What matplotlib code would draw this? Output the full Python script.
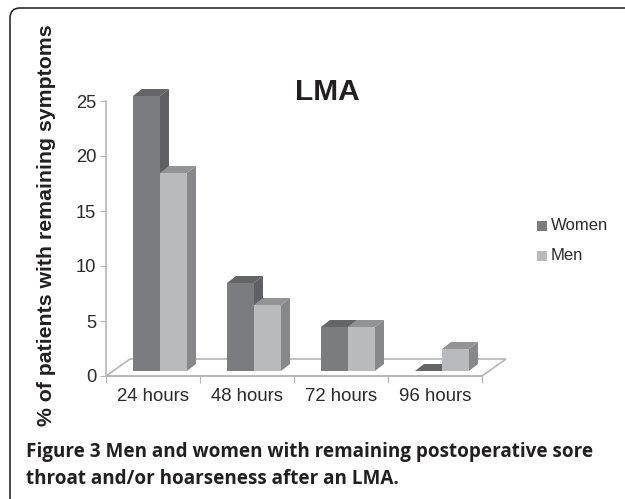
import matplotlib
matplotlib.use('Agg')
import matplotlib.pyplot as plt
from matplotlib.patches import Polygon, FancyBboxPatch, Rectangle

# data
categories = ['24 hours', '48 hours', '72 hours', '96 hours']
women = [25, 8, 4, 0]
men = [18, 6, 4, 2]
yticks = [0, 5, 10, 15, 20, 25]

W, H = 625, 499
fig = plt.figure(figsize=(W / 100, H / 100), dpi=100)
plt.rcParams['font.family'] = ['Liberation Sans', 'DejaVu Sans']

# frame runs off the right and bottom of the picture
bg = fig.add_axes([0, 0, 1, 1])
bg.set_xlim(0, W)
bg.set_ylim(H, 0)
bg.axis('off')
bg.add_patch(FancyBboxPatch((10, 8), 640, 500, boxstyle='round,pad=0,rounding_size=10',
                            fc='white', ec='#2b2b2b', lw=1.2))

# plot axes: category 0..4 = 106..482 px, value 0..25 = 376..101 px
ax = fig.add_axes([106 / W, 1 - 376 / H, 376 / W, 275 / H])
ax.set_xlim(0, 4)
ax.set_ylim(0, 25)
ax.patch.set_alpha(0)
for s in ['top', 'right']:
    ax.spines[s].set_visible(False)
ax.spines['bottom'].set_color('#b5b6b8')
ax.spines['left'].set_color('#b5b6b8')
ax.spines['bottom'].set_linewidth(1.2)
ax.spines['left'].set_linewidth(1.2)

ax.set_yticks(yticks)
ax.set_xticks(range(5))
ax.set_xticklabels([])
ax.tick_params(axis='y', length=4, color='#b5b6b8', labelsize=13.2, labelcolor='#2b2b2b', pad=3)
ax.tick_params(axis='x', length=5, color='#b5b6b8')
for i, c in enumerate(categories):
    ax.text(i + 0.5, -1.1, c, ha='center', va='top', fontsize=13.4, color='#2b2b2b')

# depth of the fake 3d
ux, uy = 1 / 94, 1 / 11
fx, fy = 24 * ux, 17 * uy   # floor
dx, dy = 9 * ux, 7 * uy     # bars
y0 = 5 * uy                 # bars stand a little behind the front edge
bw = 27 * ux
off = 27 * ux

ax.add_patch(Polygon([(0, 0), (4, 0), (4 + fx, fy), (fx, fy)], closed=True, fc='white',
                     ec='#b5b6b8', lw=1.2, clip_on=False, zorder=1))


def bar3d(x, v, front, side, top):
    ax.bar(x, v, bw, bottom=y0, align='edge', color=front, zorder=3, clip_on=False)
    ax.add_patch(Polygon([(x + bw, y0), (x + bw + dx, y0 + dy), (x + bw + dx, y0 + v + dy), (x + bw, y0 + v)],
                         closed=True, fc=side, ec='none', clip_on=False, zorder=3))
    ax.add_patch(Polygon([(x, y0 + v), (x + dx, y0 + v + dy), (x + bw + dx, y0 + v + dy), (x + bw, y0 + v)],
                         closed=True, fc=top, ec='none', clip_on=False, zorder=3))


for i in range(len(categories)):
    bar3d(i + off, women[i], '#7b7c80', '#5f6063', '#646568')
    bar3d(i + off + bw, men[i], '#b9babd', '#87888b', '#929396')

# labels
fig.text(47 / W, 1 - 225 / H, '% of patients with remaining symptoms', rotation=90, ha='center', va='center',
         fontsize=15.3, fontweight='bold', color='#231f20')
fig.text(327 / W, 1 - 92 / H, 'LMA', ha='center', va='center', fontsize=21.5, fontweight='bold', color='#231f20')

# legend
for yy, name, col in [(226, 'Women', '#7b7c80'), (256, 'Men', '#b9babd')]:
    bg.add_patch(Rectangle((537, yy - 5), 10, 10, fc=col, ec='none'))
    bg.text(551, yy, name, va='center', fontsize=12, color='#2b2b2b')

# caption
caption = ['Figure 3 Men and women with remaining postoperative sore',
           'throat and/or hoarseness after an LMA.']
for yy, line in zip([452, 479], caption):
    bg.text(26, yy, line, va='center', fontsize=13.55, fontweight='bold', family='Open Sans', color='#231f20')

fig.savefig('out.png', dpi=100)
